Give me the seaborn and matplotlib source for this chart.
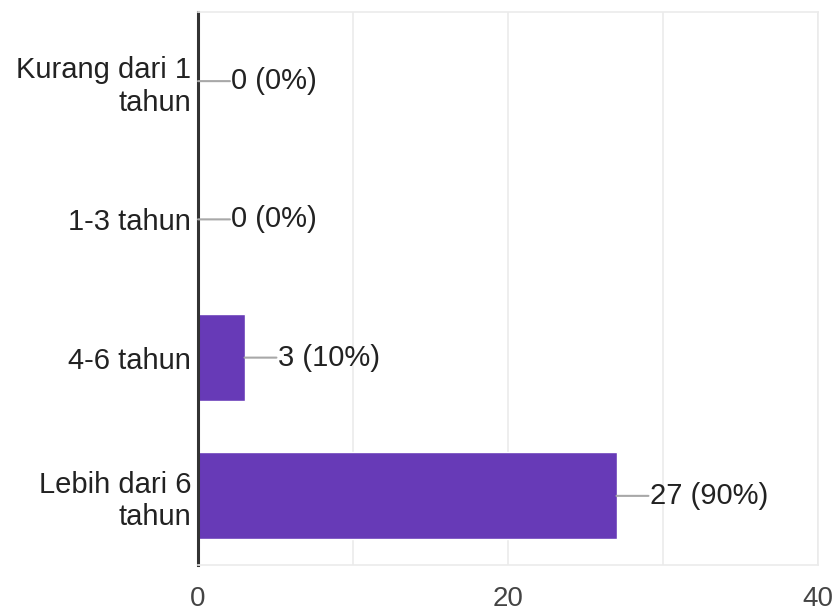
import matplotlib
matplotlib.use("Agg")
import matplotlib.pyplot as plt
import seaborn as sns
import pandas as pd

categories = ["Kurang dari 1\ntahun", "1-3 tahun", "4-6 tahun", "Lebih dari 6\ntahun"]
counts = [0, 0, 3, 27]
labels = ["0 (0%)", "0 (0%)", "3 (10%)", "27 (90%)"]
xticks = [0, 20, 40]

sns.set_theme(style="white")
plt.rcParams['font.family'] = ['Liberation Sans', 'DejaVu Sans']

df = pd.DataFrame({"cat": categories, "n": counts})

fig = plt.figure(figsize=(8.38, 6.16), dpi=100)
ax = fig.add_axes([198/838, 1 - 565/616, (818-198)/838, (565-12)/616])

sns.barplot(data=df, y="cat", x="n", orient="h", color="#673AB7",
            saturation=1, width=0.63, ax=ax, order=categories)

ax.set_xlim(0, 40)
ax.set_ylim(len(categories) - 0.5, -0.5)
ax.set_xticks([0, 10, 20, 30, 40])
ax.set_xticklabels(["0", "", "20", "", "40"])
ax.grid(axis="x", color="#ebebeb", linewidth=1.2)
ax.set_axisbelow(True)
ax.set_xlabel("")
ax.set_ylabel("")

for s in ["top", "right", "bottom"]:
    ax.spines[s].set_visible(True)
    ax.spines[s].set_color("#ebebeb")
    ax.spines[s].set_linewidth(1.2)
ax.spines["left"].set_color("#333333")
ax.spines["left"].set_linewidth(2.2)

ax.tick_params(axis="x", length=0, pad=15, labelsize=20, labelcolor="#444444")
ax.tick_params(axis="y", length=0, pad=5, labelsize=21, labelcolor="#222222")
for t in ax.get_yticklabels():
    t.set_horizontalalignment("right")
    t.set_multialignment("right")

for i, (v, lab) in enumerate(zip(counts, labels)):
    ax.annotate("", xy=(v, i), xytext=(23, 0), textcoords="offset points",
                arrowprops=dict(arrowstyle="-", color="#a8a8a8", lw=1.5,
                                shrinkA=0, shrinkB=0))
    ax.annotate(lab, xy=(v, i), xytext=(24, 0), textcoords="offset points",
                ha="left", va="center", fontsize=21, color="#222222")

fig.savefig("out.png", dpi=100)
